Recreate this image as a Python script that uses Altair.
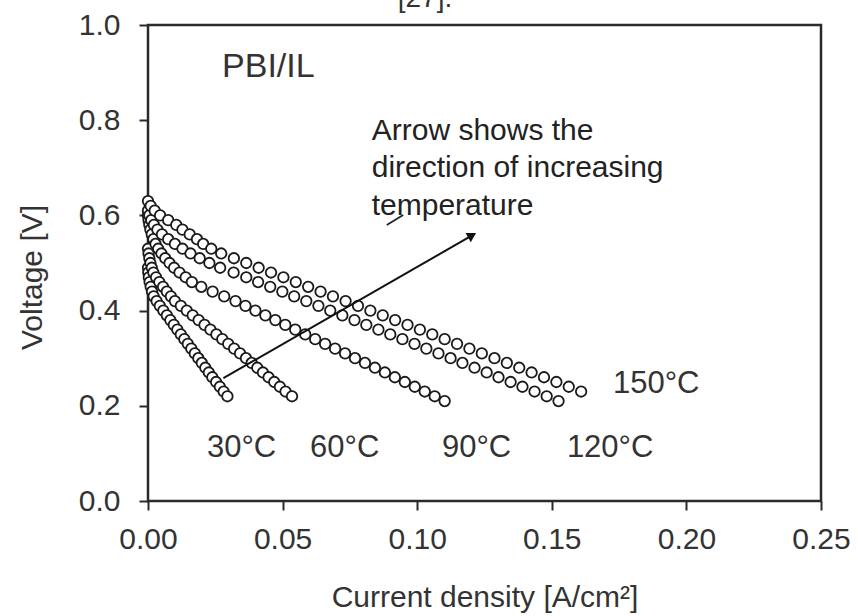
import altair as alt
import pandas as pd

FONT = "Liberation Sans"

# ---- data (current density A/cm2, voltage V) ----
v30 = [0.49, 0.48, 0.47, 0.46, 0.45, 0.44, 0.43, 0.42, 0.41, 0.40, 0.39, 0.38, 0.37, 0.36,
       0.35, 0.34, 0.33, 0.32, 0.31, 0.30, 0.29, 0.28, 0.27, 0.26, 0.25, 0.24, 0.23, 0.22]
j30 = [0.0000, 0.0001, 0.0003, 0.0006, 0.0010, 0.0015, 0.0021, 0.0032, 0.0044, 0.0057, 0.0070,
       0.0083, 0.0096, 0.0109, 0.0122, 0.0135, 0.0148, 0.0161, 0.0174, 0.0187, 0.0200, 0.0213,
       0.0226, 0.0239, 0.0253, 0.0267, 0.0281, 0.0295]

v60 = [0.53, 0.52, 0.51, 0.50, 0.49, 0.48, 0.47, 0.46, 0.45, 0.44, 0.43, 0.42, 0.41, 0.40, 0.39,
       0.38, 0.37, 0.36, 0.35, 0.34, 0.33, 0.32, 0.31, 0.30, 0.29, 0.28, 0.27, 0.26, 0.25, 0.24,
       0.23, 0.22]
j60 = [0.0000, 0.0002, 0.0005, 0.0009, 0.0014, 0.0020, 0.0030, 0.0042, 0.0056, 0.0070, 0.0085,
       0.0100, 0.0122, 0.0144, 0.0166, 0.0188, 0.0210, 0.0232, 0.0254, 0.0276, 0.0298, 0.0320,
       0.0342, 0.0364, 0.0385, 0.0406, 0.0427, 0.0448, 0.0469, 0.0490, 0.0511, 0.0535]

v90 = [0.60, 0.59, 0.58, 0.57, 0.56, 0.55, 0.54, 0.53, 0.52, 0.51, 0.50, 0.49, 0.48, 0.47, 0.46,
       0.45, 0.44, 0.43, 0.42, 0.41, 0.40, 0.39, 0.38, 0.37, 0.36, 0.35, 0.34, 0.33, 0.32, 0.31,
       0.30, 0.29, 0.28, 0.27, 0.26, 0.25, 0.24, 0.23, 0.22, 0.21]
j90 = [0.0000, 0.0002, 0.0005, 0.0009, 0.0014, 0.0020, 0.0028, 0.0038, 0.0050, 0.0064, 0.0080,
       0.0097, 0.0117, 0.0140, 0.0163, 0.0198, 0.0240, 0.0283, 0.0325, 0.0362, 0.0399, 0.0436,
       0.0473, 0.0510, 0.0547, 0.0584, 0.0621, 0.0658, 0.0695, 0.0732, 0.0769, 0.0806, 0.0843,
       0.0880, 0.0917, 0.0954, 0.0991, 0.1028, 0.1065, 0.1102]

v120 = [0.61, 0.60, 0.59, 0.58, 0.57, 0.56, 0.55, 0.54, 0.53, 0.52, 0.51, 0.50, 0.49, 0.48, 0.47,
        0.46, 0.45, 0.44, 0.43, 0.42, 0.41, 0.40, 0.39, 0.38, 0.37, 0.36, 0.35, 0.34, 0.33, 0.32,
        0.31, 0.30, 0.29, 0.28, 0.27, 0.26, 0.25, 0.24, 0.23, 0.22, 0.21]
j120 = [0.0000, 0.0005, 0.0012, 0.0022, 0.0035, 0.0052, 0.0075, 0.0100, 0.0128, 0.0158, 0.0192,
        0.0228, 0.0268, 0.0318, 0.0365, 0.0409, 0.0454, 0.0499, 0.0543, 0.0588, 0.0633, 0.0677,
        0.0722, 0.0767, 0.0811, 0.0856, 0.0900, 0.0945, 0.0990, 0.1034, 0.1079, 0.1124, 0.1168,
        0.1213, 0.1258, 0.1302, 0.1347, 0.1391, 0.1436, 0.1481, 0.1525]

v150 = [0.63, 0.62, 0.61, 0.60, 0.59, 0.58, 0.57, 0.56, 0.55, 0.54, 0.53, 0.52, 0.51, 0.50, 0.49,
        0.48, 0.47, 0.46, 0.45, 0.44, 0.43, 0.42, 0.41, 0.40, 0.39, 0.38, 0.37, 0.36, 0.35, 0.34,
        0.33, 0.32, 0.31, 0.30, 0.29, 0.28, 0.27, 0.26, 0.25, 0.24, 0.23]
j150 = [0.0000, 0.0010, 0.0025, 0.0045, 0.0075, 0.0105, 0.0128, 0.0155, 0.0182, 0.0205, 0.0235,
        0.0272, 0.0319, 0.0365, 0.0411, 0.0457, 0.0503, 0.0549, 0.0595, 0.0641, 0.0687, 0.0734,
        0.0780, 0.0826, 0.0872, 0.0918, 0.0964, 0.1010, 0.1056, 0.1102, 0.1148, 0.1194, 0.1240,
        0.1287, 0.1333, 0.1379, 0.1425, 0.1471, 0.1517, 0.1563, 0.1609]

series_names = ["30°C", "60°C", "90°C", "120°C", "150°C"]
series_j = [j30, j60, j90, j120, j150]
series_v = [v30, v60, v90, v120, v150]

# temperature labels (left x, baseline y)
temp_label_x = [0.0219, 0.0602, 0.1092, 0.1556, 0.1727]
temp_label_y = [0.0924, 0.0924, 0.0924, 0.0924, 0.227]

x_ticks = [0.0, 0.05, 0.10, 0.15, 0.20, 0.25]
y_ticks = [0.0, 0.2, 0.4, 0.6, 0.8, 1.0]

note_lines = ["Arrow shows the", "direction of increasing", "temperature"]
note_x = [0.0831, 0.0831, 0.0831]
note_y = [0.758, 0.681, 0.601]

arrow_start = (0.028, 0.258)
arrow_head = (0.1204, 0.558)

# ---- build tables ----
rows = []
k = 0
for name, js, vs in zip(series_names, series_j, series_v):
    for jj, vv in zip(js, vs):
        rows.append({"series": name, "j": jj, "v": vv, "idx": k})
        k += 1
df = pd.DataFrame(rows)

xs = alt.Scale(domain=[0, 0.25], nice=False, zero=False)
ys = alt.Scale(domain=[0, 1.0], nice=False, zero=False)

common_axis = dict(domain=False, grid=False, tickColor="#2a2a2a", tickWidth=2, tickSize=9,
                   labelFlush=False, labelOverlap=False,
                   labelFont=FONT, labelFontSize=30, labelColor="#333",
                   titleFont=FONT, titleFontSize=30, titleColor="#333",
                   titleFontWeight="normal")

x_axis = alt.Axis(values=x_ticks, format=".2f", title="Current density [A/cm²]",
                  labelPadding=14, titleY=96, titleBaseline="middle", **common_axis)
y_axis = alt.Axis(values=y_ticks, format=".1f", title="Voltage [V]",
                  labelPadding=19, titleX=-116, titleY=252, titleBaseline="middle",
                  titleAlign="center", **common_axis)

points = alt.Chart(df).mark_point(
    shape="circle", filled=True, fill="white", stroke="#1a1a1a", strokeWidth=1.8,
    size=110, opacity=1
).encode(
    x=alt.X("j:Q", scale=xs, axis=x_axis),
    y=alt.Y("v:Q", scale=ys, axis=y_axis),
    order=alt.Order("idx:Q"),
)

arrow_df = pd.DataFrame([{"x0": arrow_start[0], "y0": arrow_start[1],
                          "x1": arrow_head[0], "y1": arrow_head[1]}])
arrow = alt.Chart(arrow_df).mark_rule(color="#111", strokeWidth=2).encode(
    x=alt.X("x0:Q", scale=xs), y=alt.Y("y0:Q", scale=ys),
    x2="x1:Q", y2="y1:Q")
head = alt.Chart(arrow_df).mark_point(shape="triangle-up", filled=True, color="#111",
                                      size=110, angle=60, opacity=1).encode(
    x=alt.X("x1:Q", scale=xs), y=alt.Y("y1:Q", scale=ys))

squig_df = pd.DataFrame([{"x0": 0.0887, "y0": 0.580, "x1": 0.0948, "y1": 0.601}])
squig = alt.Chart(squig_df).mark_rule(color="#222", strokeWidth=1.8).encode(
    x=alt.X("x0:Q", scale=xs), y=alt.Y("y0:Q", scale=ys), x2="x1:Q", y2="y1:Q")

temp_df = pd.DataFrame({"t": series_names, "x": temp_label_x, "y": temp_label_y})
temp_text = alt.Chart(temp_df).mark_text(
    align="left", baseline="alphabetic", font=FONT, fontSize=31, color="#333"
).encode(x=alt.X("x:Q", scale=xs), y=alt.Y("y:Q", scale=ys), text="t:N")

note_df = pd.DataFrame({"t": note_lines, "x": note_x, "y": note_y})
note_text = alt.Chart(note_df).mark_text(
    align="left", baseline="alphabetic", font=FONT, fontSize=30, color="#222"
).encode(x=alt.X("x:Q", scale=xs), y=alt.Y("y:Q", scale=ys), text="t:N")

pbi_df = pd.DataFrame({"t": ["PBI/IL"], "x": [0.0275], "y": [0.912]})
pbi_text = alt.Chart(pbi_df).mark_text(
    align="left", baseline="middle", font=FONT, fontSize=34, color="#333"
).encode(x=alt.X("x:Q", scale=xs), y=alt.Y("y:Q", scale=ys), text="t:N")

cap_df = pd.DataFrame({"t": ["[27]."], "x": [0.1029], "y": [1.038]})
cap_text = alt.Chart(cap_df).mark_text(
    align="center", baseline="alphabetic", font=FONT, fontSize=28, color="#333"
).encode(x=alt.X("x:Q", scale=xs), y=alt.Y("y:Q", scale=ys), text="t:N")

chart = alt.layer(points, arrow, head, squig, temp_text, note_text, pbi_text, cap_text).properties(
    width=673, height=476,
    background="white",
    autosize=alt.AutoSizeParams(type="none"),
    padding={"left": 148, "top": 25, "right": 37, "bottom": 115},
).configure_view(
    stroke="#2a2a2a", strokeWidth=2.5
)

chart.save("out.html", embed_options={"renderer": "svg", "actions": False})
